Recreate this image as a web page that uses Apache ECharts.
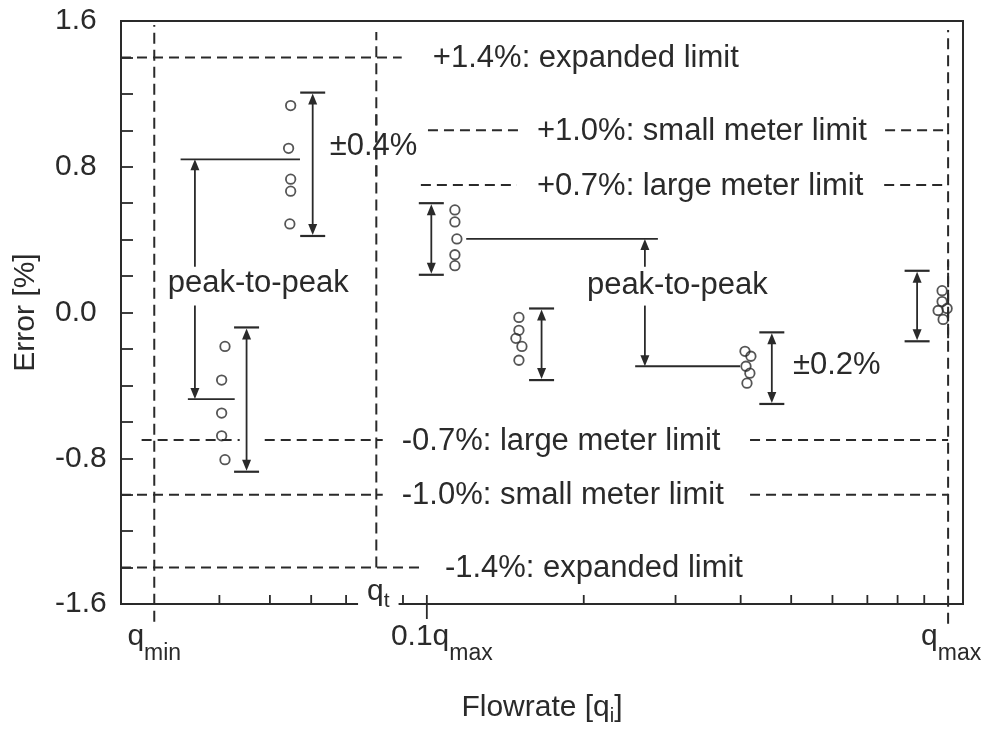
<!DOCTYPE html>
<html><head><meta charset="utf-8">
<script src="https://cdn.jsdelivr.net/npm/echarts@6/dist/echarts.min.js"></script>
<style>html,body{margin:0;padding:0;background:#fff}#c{width:984px;height:731px}</style>
</head><body><div id="c"></div>
<script>
// ---- axis definitions (flow as fraction of q_max, log scale) ----
const Q_MIN = 0.03, Q_T = 0.08, Q_01 = 0.1, Q_MAX = 1;
const xMin = 0.0259, xMax = 1.068;
const yMin = -1.6, yMax = 1.6, yStep = 0.2;
const yLabelValues = [-1.6, -0.8, 0, 0.8, 1.6];
const xMinorTicks = [0.04, 0.05, 0.06, 0.07, 0.08, 0.09, 0.2, 0.3, 0.4, 0.5, 0.6, 0.7, 0.8, 0.9];
const xMajorTicks = [0.1];

// ---- measured points (6 groups of 5) ----
const pointFlow = [
  0.0548, 0.0543, 0.0548, 0.0548, 0.0546,
  0.0410, 0.0404, 0.0404, 0.0404, 0.0410,
  0.1132, 0.1132, 0.1142, 0.1132, 0.1132,
  0.1502, 0.1502, 0.1482, 0.1522, 0.1502,
  0.4077, 0.4185, 0.4095, 0.4166, 0.4113,
  0.9738, 0.9738, 0.9568, 0.9956, 0.9782
];
const pointErr = [
  1.136, 0.901, 0.732, 0.666, 0.486,
  -0.186, -0.371, -0.552, -0.677, -0.808,
  0.563, 0.497, 0.404, 0.317, 0.257,
  -0.027, -0.098, -0.142, -0.186, -0.262,
  -0.213, -0.240, -0.295, -0.333, -0.388,
  0.120, 0.060, 0.011, 0.022, -0.038
];

// ---- error bars (double arrows with caps) ----
const barFlow = [0.0604, 0.0451, 0.102, 0.166, 0.459, 0.872];
const barLow  = [0.420, -0.874, 0.207, -0.371, -0.502, -0.158];
const barHigh = [1.207, -0.082, 0.600, 0.022, -0.109, 0.229];

// ---- peak-to-peak connector lines ----
const linkErr  = [0.841, -0.475, 0.404, -0.295];
const linkFrom = [0.0337, 0.0348, 0.119, 0.251];
const linkTo   = [0.0571, 0.0428, 0.2775, 0.399];

// ---- peak-to-peak arrows (head at arrowTo) ----
const arrowFlow = [0.0359, 0.0359, 0.262, 0.262];
const arrowFrom = [0.251, 0.038, 0.251, 0.038];
const arrowTo   = [0.841, -0.475, 0.404, -0.295];

// ---- limit lines ----
const limitErr = [1.4, 1.0, 0.7, -0.7, -1.0, -1.4];
const limitSegments = [
  [[xMin, 0.0895]],
  [[0.1005, 0.152], [0.757, Q_MAX]],
  [[0.0974, 0.1489], [0.754, Q_MAX]],
  [[0.02837, 0.04375], [0.04887, 0.0823], [0.4169, Q_MAX]],
  [[xMin, 0.0823], [0.4169, Q_MAX]],
  [[xMin, 0.0983]]
];
const limitText = ['+1.4%: expanded limit', '+1.0%: small meter limit', '+0.7%: large meter limit',
                   '-0.7%: large meter limit', '-1.0%: small meter limit', '-1.4%: expanded limit'];
const limitTextFlow = [0.1027, 0.1626, 0.1626, 0.0895, 0.0895, 0.1083];

// ---- vertical reference flows ----
const refFlow = [Q_MIN, Q_T, Q_MAX];
const refSegments = [
  [[-1.698, 1.578]],
  [[-1.4, 1.098], [0.748, 1.54]],
  [[-1.709, 0.284], [-0.142, 1.551]]
];

// ---- annotations ----
const noteText = ['peak-to-peak', 'peak-to-peak', '±0.4%', '±0.2%'];
const noteFlow = [0.03184, 0.2028, 0.0651, 0.504];
const noteErr  = [0.164, 0.153, 0.917, -0.287];

// ---- x tick labels (rich: main + subscript) ----
const qLabelFlow = [Q_MIN, Q_01, Q_MAX];
const qLabelMain = ['q', '0.1q', 'q'];
const qLabelSub  = ['min', 'max', 'max'];
const qLabelDx   = [0, 15, 3];

const C = '#2a2a2a';
const FONT = '"Liberation Sans", Arial, Helvetica, sans-serif';

function lineEl(x1, y1, x2, y2, w, dash) {
  return { type: 'line', shape: { x1, y1, x2, y2 },
    style: { stroke: C, lineWidth: w, lineDash: dash || null } };
}
function headEl(x, y, dir) { // dir: -1 tip up, +1 tip down
  const L = 11, W = 4.5;
  return { type: 'polygon', shape: { points: [[x, y], [x - W, y - dir * L], [x + W, y - dir * L]] },
    style: { fill: C } };
}

const limitRows = [];
limitSegments.forEach((segs, i) => segs.forEach(s => limitRows.push([s[0], limitErr[i], s[1]])));
const refRows = [];
refSegments.forEach((segs, i) => segs.forEach(s => refRows.push([refFlow[i], s[0], s[1]])));

const subRich = (main, sub) => '{m|' + main + '}{s|' + sub + '}';

const option = {
  animation: false,
  backgroundColor: '#fff',
  textStyle: { fontFamily: FONT },
  grid: { left: 121, right: 21, top: 21, bottom: 124, show: true, borderColor: C, borderWidth: 2 },
  xAxis: {
    type: 'log', logBase: 10, min: xMin, max: xMax,
    axisLine: { show: true, onZero: false, lineStyle: { color: C, width: 2 } },
    axisTick: { show: false }, axisLabel: { show: false }, splitLine: { show: false },
    name: '{a|Flowrate [q}{s|i}{a|]}', nameLocation: 'middle', nameGap: 86,
    nameTextStyle: { rich: {
      a: { fontSize: 30, fontFamily: FONT, color: C },
      s: { fontSize: 20, fontFamily: FONT, color: C, padding: [16, 0, 0, 0] }
    } }
  },
  yAxis: {
    type: 'value', min: yMin, max: yMax, interval: yStep,
    axisLine: { show: true, onZero: false, lineStyle: { color: C, width: 2 } },
    axisTick: { show: true, inside: true, length: 12, lineStyle: { color: C, width: 1.8 } },
    axisLabel: {
      margin: 66, align: 'left', fontSize: 30, color: C, fontFamily: FONT,
      formatter: v => yLabelValues.some(l => Math.abs(l - v) < 1e-6) ? (Math.abs(v) < 1e-9 ? '0.0' : v.toFixed(1)) : ''
    },
    splitLine: { show: false },
    name: 'Error [%]', nameLocation: 'middle', nameGap: 80,
    nameTextStyle: { fontSize: 30, color: C, fontFamily: FONT }
  },
  series: [
    { // limit lines
      type: 'custom', data: limitRows, encode: { x: 0, y: 1 }, z: 3,
      renderItem: (p, api) => {
        const a = api.coord([api.value(0), api.value(1)]);
        const b = api.coord([api.value(2), api.value(1)]);
        return lineEl(a[0], a[1], b[0], b[1], 2, [10, 6]);
      }
    },
    { // vertical reference flows
      type: 'custom', data: refRows, encode: { x: 0, y: 1 }, z: 3,
      renderItem: (p, api) => {
        const a = api.coord([api.value(0), api.value(1)]);
        const b = api.coord([api.value(0), api.value(2)]);
        return lineEl(a[0], a[1], b[0], b[1], 2, [11, 6]);
      }
    },
    { // x ticks
      type: 'custom', z: 3,
      data: xMinorTicks.map(v => [v, yMin, 0]).concat(xMajorTicks.map(v => [v, yMin, 1])),
      encode: { x: 0, y: 1 },
      renderItem: (p, api) => {
        const a = api.coord([api.value(0), api.value(1)]);
        const major = api.value(2) === 1;
        return lineEl(a[0], a[1] + (major ? 15 : 0), a[0], a[1] - 9, 1.8);
      }
    },
    { // connector lines
      type: 'custom', z: 4,
      data: linkErr.map((e, i) => [linkFrom[i], e, linkTo[i]]), encode: { x: 0, y: 1 },
      renderItem: (p, api) => {
        const a = api.coord([api.value(0), api.value(1)]);
        const b = api.coord([api.value(2), api.value(1)]);
        return lineEl(a[0], a[1], b[0], b[1], 1.8);
      }
    },
    { // peak-to-peak arrows
      type: 'custom', z: 4,
      data: arrowFlow.map((f, i) => [f, arrowFrom[i], arrowTo[i]]), encode: { x: 0, y: 1 },
      renderItem: (p, api) => {
        const a = api.coord([api.value(0), api.value(1)]);
        const b = api.coord([api.value(0), api.value(2)]);
        const dir = b[1] > a[1] ? 1 : -1;
        return { type: 'group', children: [
          lineEl(a[0], a[1], b[0], b[1] - dir * 8, 1.8),
          headEl(b[0], b[1], dir)
        ] };
      }
    },
    { // error bars
      type: 'custom', z: 4,
      data: barFlow.map((f, i) => [f, barLow[i], barHigh[i]]), encode: { x: 0, y: 1 },
      renderItem: (p, api) => {
        const lo = api.coord([api.value(0), api.value(1)]);
        const hi = api.coord([api.value(0), api.value(2)]);
        const x = lo[0], cap = 12.5;
        return { type: 'group', children: [
          lineEl(x - cap, hi[1], x + cap, hi[1], 2.2),
          lineEl(x - cap, lo[1], x + cap, lo[1], 2.2),
          lineEl(x, hi[1] + 8, x, lo[1] - 8, 1.8),
          headEl(x, hi[1] + 1, -1),
          headEl(x, lo[1] - 1, 1)
        ] };
      }
    },
    { // data points
      type: 'scatter', z: 5,
      data: pointFlow.map((f, i) => [f, pointErr[i]]),
      symbol: 'circle', symbolSize: 9.5,
      itemStyle: { color: 'rgba(0,0,0,0)', borderColor: C, borderWidth: 1.8 }
    },
    { // limit texts and annotations
      type: 'custom', z: 6,
      data: limitText.map((t, i) => [limitTextFlow[i], limitErr[i], i])
        .concat(noteText.map((t, i) => [noteFlow[i], noteErr[i], 100 + i])),
      encode: { x: 0, y: 1 },
      renderItem: (p, api) => {
        const a = api.coord([api.value(0), api.value(1)]);
        const k = api.value(2);
        const txt = k >= 100 ? noteText[k - 100] : limitText[k];
        return { type: 'text', x: a[0], y: a[1] + 1,
          style: { text: txt, fill: C, font: '31px ' + FONT, align: 'left', verticalAlign: 'middle' } };
      }
    },
    { // x tick labels with subscripts
      type: 'custom', z: 6,
      data: qLabelFlow.map((f, i) => [f, yMin, i]), encode: { x: 0, y: 1 },
      renderItem: (p, api) => {
        const a = api.coord([api.value(0), api.value(1)]);
        const k = api.value(2);
        return { type: 'text', x: a[0] + qLabelDx[k], y: a[1] + 4,
          style: { text: subRich(qLabelMain[k], qLabelSub[k]), align: 'center', verticalAlign: 'top',
            rich: {
              m: { fontSize: 30, fontFamily: FONT, fill: C, color: C },
              s: { fontSize: 23, fontFamily: FONT, fill: C, color: C, padding: [34, 0, 0, 0] }
            } } };
      }
    },
    { // q_t label sitting on the axis
      type: 'custom', z: 7,
      data: [[Q_T, yMin]], encode: { x: 0, y: 1 },
      renderItem: (p, api) => {
        const a = api.coord([api.value(0), api.value(1)]);
        return { type: 'text', x: a[0] + 2, y: a[1] + 8,
          style: { text: subRich('q', 't'), align: 'center', verticalAlign: 'bottom',
            backgroundColor: '#fff', padding: [0, 9, 0, 9],
            rich: {
              m: { fontSize: 30, fontFamily: FONT, fill: C, color: C },
              s: { fontSize: 21, fontFamily: FONT, fill: C, color: C, padding: [20, 0, 0, 0] }
            } } };
      }
    }
  ]
};

const chart = echarts.init(document.getElementById('c'));
chart.setOption(option);
</script>
</body></html>
